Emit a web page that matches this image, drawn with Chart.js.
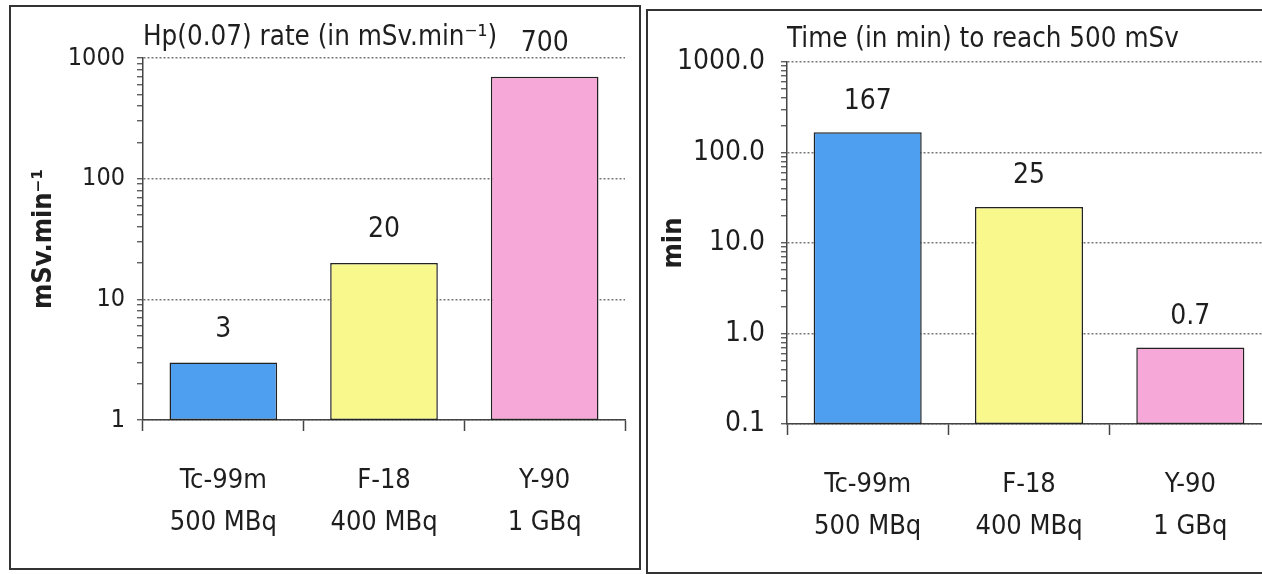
<!DOCTYPE html>
<html>
<head>
<meta charset="utf-8">
<script src="https://cdn.jsdelivr.net/npm/chart.js@4.4.0/dist/chart.umd.min.js"></script>
<style>
    html, body { margin: 0; padding: 0; background: #fff; overflow: hidden; width: 1262px; height: 574px; }
    .panel { position: absolute; border: 2px solid #333; box-sizing: border-box; background: #fff; }
    #leftBox { left: 9px; top: 5px; width: 632px; height: 565px; }
    #rightBox { left: 646px; top: 9px; width: 650px; height: 565px; }
    .wrap { position: relative; width: 100%; height: 100%; }
</style>
</head>
<body>
<div class="panel" id="leftBox"><div class="wrap"><canvas id="rateCanvas"></canvas></div></div>
<div class="panel" id="rightBox"><div class="wrap"><canvas id="timeCanvas"></canvas></div></div>
<script>
//Data
const isotopes = [['Tc-99m', '500 MBq'], ['F-18', '400 MBq'], ['Y-90', '1 GBq']];
const rateValues = [3, 20, 700];
const timeValues = [167, 25, 0.7];
const barColours = ['#4f9ff0', '#f8f88c', '#f6a8d8'];

const FONT = '"DejaVu Sans Condensed", "Liberation Sans Narrow", "DejaVu Sans", sans-serif';

//helpers
function isDecade(v) {
    let l = Math.log10(v);
    return Math.abs(l - Math.round(l)) < 1e-9;
}
function isHalf(v) {
    let s = v / Math.pow(10, Math.floor(Math.log10(v) + 1e-9));
    return Math.abs(s - 1.5) < 1e-9;
}

//draws the value above each bar
const valueLabels = {
    id: 'valueLabels',
    afterDatasetsDraw(chart, args, opts) {
        let ctx = chart.ctx;
        let meta = chart.getDatasetMeta(0);
        ctx.save();
        ctx.font = '28px ' + FONT;
        ctx.fillStyle = '#1e1e1e';
        ctx.textAlign = 'center';
        ctx.textBaseline = 'middle';
        meta.data.forEach((bar, i) => {
            ctx.fillText(String(chart.data.datasets[0].data[i]), bar.x, bar.y - opts.gap);
        });
        ctx.restore();
    }
};

function createChart(canvas, cfg) {
    return new Chart(canvas.getContext('2d'), {
        type: 'bar',
        data: {
            labels: isotopes,
            datasets: [{
                data: cfg.values,
                backgroundColor: barColours,
                borderColor: '#222',
                borderWidth: 1.5,
                borderSkipped: false,
                barPercentage: 0.67,
                categoryPercentage: 1
            }]
        },
        plugins: [valueLabels],
        options: {
            responsive: true,
            maintainAspectRatio: false,
            animation: false,
            layout: { padding: { left: 0, right: cfg.padRight, top: 0, bottom: 0 } },
            plugins: {
                legend: { display: false },
                tooltip: { enabled: false },
                title: {
                    display: true,
                    text: cfg.title,
                    align: 'start',
                    fullSize: false,
                    color: '#1e1e1e',
                    font: { family: FONT, size: 27.5, weight: 'normal', lineHeight: 1.2 },
                    padding: { top: cfg.titleTop, bottom: 51 - cfg.titleTop - 33 }
                },
                valueLabels: { gap: cfg.gap }
            },
            scales: {
                x: {
                    afterFit: (s) => { s.height = 148; },
                    grid: {
                        offset: true,
                        drawOnChartArea: false,
                        tickLength: 11,
                        tickColor: '#444',
                        tickWidth: 1.5
                    },
                    border: { color: '#444', width: 1.5 },
                    ticks: {
                        color: '#1e1e1e',
                        padding: cfg.xPad,
                        font: { family: FONT, size: 27, lineHeight: 42 / 27 }
                    }
                },
                y: {
                    type: 'logarithmic',
                    min: cfg.min,
                    max: 1000,
                    afterFit: (s) => { s.width = cfg.axisLeft; },
                    title: {
                        display: true,
                        text: cfg.yTitle,
                        color: '#1e1e1e',
                        padding: { top: cfg.yTitlePad, bottom: 0 },
                        font: { family: FONT, size: 27, weight: 'bold' }
                    },
                    grid: {
                        color: (c) => (c.tick && isDecade(c.tick.value)) ? '#777' : 'transparent',
                        tickColor: (c) => (c.tick && isHalf(c.tick.value)) ? 'transparent' : '#444',
                        lineWidth: 1.5,
                        tickLength: 6,
                        tickWidth: 1.2
                    },
                    border: { color: '#444', width: 1.5, dash: [2, 2] },
                    ticks: {
                        autoSkip: false,
                        color: '#1e1e1e',
                        padding: cfg.yPad,
                        font: { family: FONT, size: cfg.tickSize },
                        callback: (v) => isDecade(v) ? cfg.fmt(v) : ''
                    }
                }
            }
        }
    });
}

let rateChart = createChart(document.getElementById('rateCanvas'), {
    values: rateValues,
    title: 'Hp(0.07) rate (in mSv.min\u207B\u00B9)',
    yTitle: 'mSv.min\u207B\u00B9',
    min: 1,
    fmt: (v) => String(Math.round(v)),
    axisLeft: 132,
    padRight: 14,
    titleTop: 14.5,
    xPad: 29,
    yPad: 12,
    yTitlePad: 17,
    tickSize: 25,
    gap: 33
});

let timeChart = createChart(document.getElementById('timeCanvas'), {
    values: timeValues,
    title: 'Time (in min) to reach 500 mSv',
    yTitle: 'min',
    min: 0.1,
    fmt: (v) => v.toFixed(1),
    axisLeft: 139,
    padRight: 23,
    titleTop: 12.5,
    xPad: 29,
    yPad: 16,
    yTitlePad: 10,
    tickSize: 28,
    gap: 31
});
</script>
</body>
</html>
